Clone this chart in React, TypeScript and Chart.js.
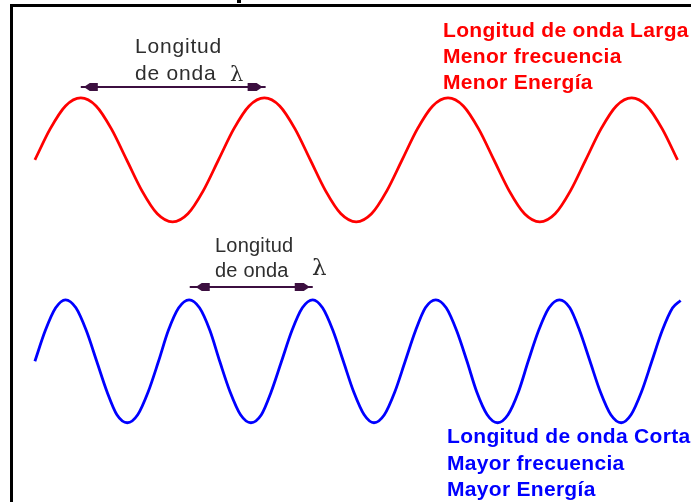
import React, { useEffect, useRef } from "react";
import { Chart, registerables } from "chart.js";

Chart.register(...registerables);

// Distance along the wave (arbitrary units) and displacement (amplitude units)
const redX = [0, 0.25, 0.5, 0.75, 1, 1.25, 1.5, 1.75, 2, 2.25, 2.5, 2.75, 3, 3.25, 3.5, 3.75, 4, 4.25, 4.5, 4.75, 5, 5.25, 5.5, 5.75, 6, 6.25, 6.5, 6.75, 7, 7.25, 7.5, 7.75, 8, 8.25, 8.5, 8.75, 9, 9.25, 9.5, 9.75, 10, 10.25, 10.5];
const redY = [
  0, 0.5, 0.87, 1, 0.87, 0.5, 0, -0.5, -0.87, -1, -0.87, -0.5,
  0, 0.5, 0.87, 1, 0.87, 0.5, 0, -0.5, -0.87, -1, -0.87, -0.5,
  0, 0.5, 0.87, 1, 0.87, 0.5, 0, -0.5, -0.87, -1, -0.87, -0.5,
  0, 0.5, 0.87, 1, 0.87, 0.5, 0,
];

const blueX = [0, 0.17, 0.34, 0.5, 0.67, 0.84, 1.01, 1.18, 1.34, 1.51, 1.68, 1.85, 2.02, 2.18, 2.35, 2.52, 2.69, 2.86, 3.02, 3.19, 3.36, 3.53, 3.7, 3.86, 4.03, 4.2, 4.37, 4.54, 4.7, 4.87, 5.04, 5.21, 5.38, 5.54, 5.71, 5.88, 6.05, 6.22, 6.38, 6.55, 6.72, 6.89, 7.06, 7.22, 7.39, 7.56, 7.73, 7.9, 8.06, 8.23, 8.4, 8.57, 8.74, 8.9, 9.07, 9.24, 9.41, 9.58, 9.74, 9.91, 10.08, 10.25, 10.42, 10.55];
const blueY = [
  0, 0.5, 0.87, 1, 0.87, 0.5, 0, -0.5, -0.87, -1, -0.87, -0.5,
  0, 0.5, 0.87, 1, 0.87, 0.5, 0, -0.5, -0.87, -1, -0.87, -0.5,
  0, 0.5, 0.87, 1, 0.87, 0.5, 0, -0.5, -0.87, -1, -0.87, -0.5,
  0, 0.5, 0.87, 1, 0.87, 0.5, 0, -0.5, -0.87, -1, -0.87, -0.5,
  0, 0.5, 0.87, 1, 0.87, 0.5, 0, -0.5, -0.87, -1, -0.87, -0.5,
  0, 0.5, 0.87, 0.99,
];

// Wavelength markers: from crest to crest
const redArrow = { x0: 0.75, x1: 3.77, y: 1.18 };
const blueArrow = { x0: 2.53, x1: 4.54, y: 1.21 };

const redLabels = ["Longitud de onda Larga", "Menor frecuencia", "Menor Energía"];
const blueLabels = ["Longitud de onda Corta", "Mayor frecuencia", "Mayor Energía"];
const markerLabel = ["Longitud", "de onda"];
const lambda = "λ";

const ARROW_COLOR = "#3c0f40";

function drawArrow(ctx: CanvasRenderingContext2D, xa: number, xb: number, y: number, tipIn: number) {
  ctx.save();
  ctx.strokeStyle = ARROW_COLOR;
  ctx.fillStyle = ARROW_COLOR;
  ctx.lineWidth = 2;
  ctx.beginPath();
  ctx.moveTo(xa, y);
  ctx.lineTo(xb, y);
  ctx.stroke();
  const lt = xa + tipIn;
  ctx.beginPath();
  ctx.moveTo(lt, y);
  ctx.lineTo(lt + 6, y - 4);
  ctx.lineTo(lt + 14, y - 4);
  ctx.lineTo(lt + 14, y + 4);
  ctx.lineTo(lt + 6, y + 4);
  ctx.closePath();
  ctx.fill();
  const rt = xb - 3;
  ctx.beginPath();
  ctx.moveTo(rt, y);
  ctx.lineTo(rt - 6, y - 4);
  ctx.lineTo(rt - 15, y - 4);
  ctx.lineTo(rt - 15, y + 4);
  ctx.lineTo(rt - 6, y + 4);
  ctx.closePath();
  ctx.fill();
  ctx.restore();
}

function text(ctx: CanvasRenderingContext2D, s: string, x: number, y: number, font: string, color: string, spacing: number) {
  ctx.save();
  ctx.font = font;
  ctx.fillStyle = color;
  ctx.textBaseline = "alphabetic";
  ctx.textAlign = "left";
  (ctx as any).letterSpacing = spacing + "px";
  ctx.fillText(s, x, y);
  ctx.restore();
}

const annotations = {
  id: "annotations",
  afterDatasetsDraw(chart: any) {
    const { ctx, scales } = chart;
    const x = scales.x;
    const yr = scales.yRed;
    const yb = scales.yBlue;
    drawArrow(ctx, x.getPixelForValue(redArrow.x0), x.getPixelForValue(redArrow.x1), Math.round(yr.getPixelForValue(redArrow.y)), 3);
    drawArrow(ctx, x.getPixelForValue(blueArrow.x0), x.getPixelForValue(blueArrow.x1), Math.round(yb.getPixelForValue(blueArrow.y)), 6);

    const sans = '"Liberation Sans", Arial, sans-serif';
    const gray = "#2e2e2e";
    text(ctx, markerLabel[0], 135, 53, `21px ${sans}`, gray, 0.8);
    text(ctx, markerLabel[1], 135, 80, `21px ${sans}`, gray, 0.8);
    text(ctx, lambda, 230, 81, `21px "DejaVu Serif", serif`, gray, 0);

    text(ctx, markerLabel[0], 215, 252, `20px ${sans}`, gray, 0.2);
    text(ctx, markerLabel[1], 215, 277, `20px ${sans}`, gray, 0.2);
    text(ctx, lambda, 312, 275, `23px "DejaVu Serif", serif`, gray, 0);

    const bold = `bold 21px ${sans}`;
    redLabels.forEach((s, i) => text(ctx, s, 443, 37 + i * 26.2, bold, "#ff0000", 0.3));
    blueLabels.forEach((s, i) => text(ctx, s, 447, 443 + i * 26.5, bold, "#0000ff", 0.3));
  },
};

export default function App() {
  const ref = useRef<HTMLCanvasElement | null>(null);

  useEffect(() => {
    if (!ref.current) return;
    const chart = new Chart(ref.current, {
      type: "line",
      data: {
        datasets: [
          {
            label: "Longitud de onda Larga",
            data: redX.map((x, i) => ({ x, y: redY[i] })),
            borderColor: "#ff0000",
            borderWidth: 2.8,
            pointRadius: 0,
            cubicInterpolationMode: "monotone",
            yAxisID: "yRed",
          },
          {
            label: "Longitud de onda Corta",
            data: blueX.map((x, i) => ({ x, y: blueY[i] })),
            borderColor: "#0000ff",
            borderWidth: 2.8,
            pointRadius: 0,
            cubicInterpolationMode: "monotone",
            yAxisID: "yBlue",
          },
        ],
      },
      options: {
        animation: false,
        responsive: false,
        maintainAspectRatio: false,
        devicePixelRatio: 1,
        layout: { padding: 0 },
        plugins: { legend: { display: false }, tooltip: { enabled: false }, title: { display: false } },
        events: [],
        scales: {
          x: { type: "linear", min: -0.57, max: 10.72, display: false },
          yRed: { type: "linear", min: -5.52, max: 2.58, display: false },
          yBlue: { type: "linear", min: -2.29, max: 5.88, display: false },
        },
      },
      plugins: [annotations],
    });
    return () => chart.destroy();
  }, []);

  return (
    <div style={{ position: "fixed", left: 0, top: 0, width: 691, height: 502, background: "#ffffff", overflow: "hidden" }}>
      <canvas ref={ref} width={691} height={502} style={{ display: "block", position: "absolute", left: 0, top: 0 }} />
      <div style={{ position: "absolute", left: 10, top: 4, right: 0, bottom: 0, borderLeft: "3px solid #000", borderTop: "3px solid #000", pointerEvents: "none" }} />
      <div style={{ position: "absolute", left: 237, top: 0, width: 4, height: 3, background: "#000" }} />
    </div>
  );
}
